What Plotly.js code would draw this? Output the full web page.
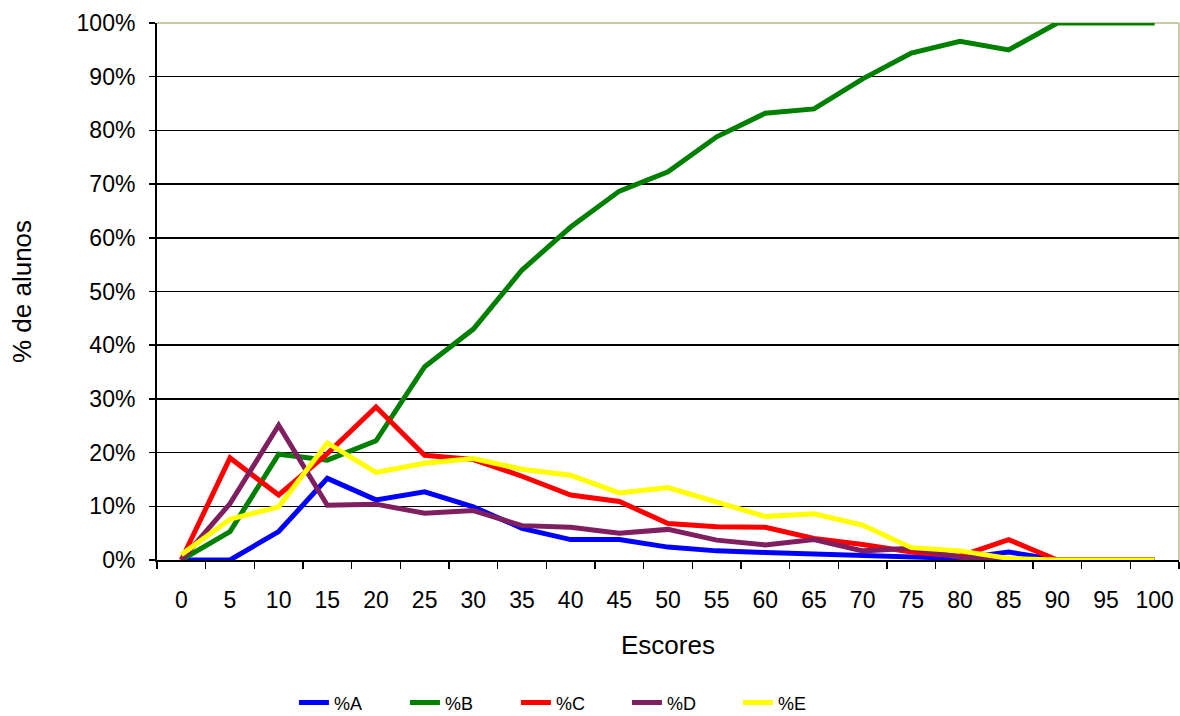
<!DOCTYPE html>
<html>
<head>
<meta charset="utf-8">
<script src="https://cdn.plot.ly/plotly-3.0.1.min.js"></script>
<style>html,body{margin:0;padding:0;background:#fff;}#chart{width:1180px;height:716px;}</style>
</head>
<body>
<div id="chart"></div>
<script>
const categories = ['0','5','10','15','20','25','30','35','40','45','50','55','60','65','70','75','80','85','90','95','100'];
const seriesA = [0, 0, 5.3, 15.2, 11.2, 12.7, 9.9, 5.9, 3.8, 3.8, 2.4, 1.7, 1.4, 1.1, 0.8, 0.6, 0.3, 1.5, 0, 0, 0];
const seriesB = [0, 5.3, 19.7, 18.6, 22.2, 36.0, 43.0, 54.0, 62.0, 68.7, 72.3, 78.8, 83.2, 84.0, 89.6, 94.4, 96.6, 95.0, 100, 100, 100];
const seriesC = [0, 19.0, 12.1, 19.8, 28.5, 19.5, 18.7, 15.6, 12.1, 10.9, 6.8, 6.2, 6.1, 4.0, 2.9, 1.5, 0.7, 3.8, 0, 0, 0];
const seriesD = [0, 10.5, 25.1, 10.2, 10.4, 8.7, 9.2, 6.4, 6.1, 5.0, 5.7, 3.7, 2.8, 3.8, 1.7, 2.2, 0.5, 0, 0, 0, 0];
const seriesE = [1.0, 7.6, 9.9, 21.8, 16.3, 18.0, 18.9, 16.9, 15.8, 12.5, 13.5, 10.7, 8.1, 8.6, 6.5, 2.3, 1.7, 0.3, 0, 0, 0];
const names = ['%A', '%B', '%C', '%D', '%E'];
const colors = ['#0000ff', '#008000', '#ff0000', '#7f1f5f', '#ffff00'];
const allSeries = [seriesA, seriesB, seriesC, seriesD, seriesE];

const traces = allSeries.map((s, i) => ({
  type: 'scatter', mode: 'lines', x: categories, y: s, name: names[i],
  line: {color: colors[i], width: 5}
}));

const font = 'Liberation Sans, Arial, sans-serif';
const layout = {
  width: 1180, height: 716,
  margin: {l: 157, r: 1, t: 23, b: 156, autoexpand: false},
  paper_bgcolor: '#ffffff', plot_bgcolor: '#ffffff',
  font: {family: font, color: '#000000'},
  showlegend: true,
  legend: {orientation: 'h', x: 0.134, xanchor: 'left', y: -0.266, yanchor: 'middle',
           font: {size: 18, family: font}, entrywidth: 66, entrywidthmode: 'pixels',
           traceorder: 'normal'},
  xaxis: {
    type: 'category', categoryorder: 'array', categoryarray: categories,
    range: [-0.5, 20.5],
    showgrid: false, zeroline: false,
    showline: true, linecolor: '#000000', linewidth: 2,
    ticks: 'outside', tickson: 'boundaries', ticklen: 7, tickwidth: 1.5, tickcolor: '#000000',
    ticklabelstandoff: 18,
    tickfont: {size: 23, family: font},
    title: {text: 'Escores', font: {size: 26, family: font}, standoff: 24}
  },
  yaxis: {
    range: [0, 100], dtick: 10, tick0: 0, ticksuffix: '%',
    showgrid: true, gridcolor: '#000000', gridwidth: 1.5,
    zeroline: false, showline: true, linecolor: '#000000', linewidth: 2,
    ticks: 'outside', ticklen: 6, tickwidth: 1.5, tickcolor: '#000000',
    ticklabelstandoff: 9,
    tickfont: {size: 23, family: font},
    title: {text: '% de alunos', font: {size: 26, family: font}, standoff: 37}
  },
  shapes: [
    {type: 'line', xref: 'paper', yref: 'paper', x0: 0, x1: 1, y0: 1, y1: 1, line: {color: '#b8b888', width: 1.5}, layer: 'below'},
    {type: 'line', xref: 'paper', yref: 'paper', x0: 1, x1: 1, y0: 0, y1: 1, line: {color: '#b8b888', width: 1.5}, layer: 'below'}
  ]
};
Plotly.newPlot('chart', traces, layout, {displayModeBar: false, staticPlot: true});
</script>
</body>
</html>
